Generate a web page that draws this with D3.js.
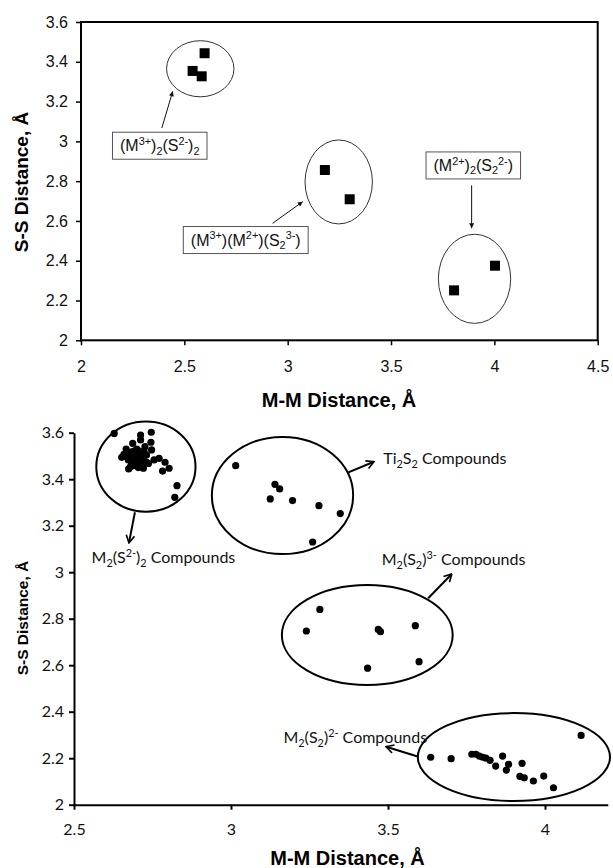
<!DOCTYPE html>
<html>
<head>
<meta charset="utf-8">
<script src="https://cdn.jsdelivr.net/npm/d3@7/dist/d3.min.js"></script>
<style>
  html, body { margin: 0; padding: 0; background: #fff; }
  svg { display: block; }
</style>
</head>
<body>
<svg id="fig" width="613" height="868"></svg>
<script>
// ---------- Panel (a): bond-distance classes ----------
const topMM = [2.598, 2.540, 2.584, 3.180, 3.300, 3.805, 4.003];
const topSS = [3.443, 3.354, 3.327, 2.856, 2.709, 2.251, 2.375];
const topXTicks = [2, 2.5, 3, 3.5, 4, 4.5];
const topYTicks = [2, 2.2, 2.4, 2.6, 2.8, 3, 3.2, 3.4, 3.6];

// grouping ellipses: centre (mm, ss) and half-widths in data units
const topGroups = [
  { cx: 2.577, cy: 3.365, rx: 0.163, ry: 0.141 },
  { cx: 3.247, cy: 2.796, rx: 0.163, ry: 0.211 },
  { cx: 3.904, cy: 2.309, rx: 0.175, ry: 0.224 }
];
// boxed labels (centre in data units) with arrows pointing at the groups
const topLabels = [
  { text: "(M^{3+})_{2}(S^{2-})_{2}", x: 2.381, y: 2.978 },
  { text: "(M^{3+})(M^{2+})(S_{2}^{3-})", x: 2.797, y: 2.504 },
  { text: "(M^{2+})_{2}(S_{2}^{2-})", x: 3.898, y: 2.879 }
];
const topArrows = [
  { x1: 2.391, y1: 3.067, x2: 2.444, y2: 3.252 },
  { x1: 2.927, y1: 2.588, x2: 3.073, y2: 2.697 },
  { x1: 3.890, y1: 2.779, x2: 3.890, y2: 2.563 }
];

// ---------- Panel (b): compound survey ----------
const groupM2S2 = [
  [2.628,3.597],[2.712,3.590],[2.746,3.602],[2.745,3.559],[2.687,3.554],[2.712,3.569],
  [2.666,3.530],[2.726,3.540],[2.747,3.526],[2.652,3.494],[2.659,3.507],[2.674,3.444],
  [2.721,3.447],[2.737,3.468],[2.755,3.483],[2.771,3.490],[2.790,3.473],[2.803,3.447],
  [2.782,3.435],[2.828,3.372],[2.821,3.322],
  [2.668,3.497],[2.676,3.507],[2.684,3.518],[2.691,3.521],[2.700,3.530],[2.708,3.521],
  [2.716,3.511],[2.723,3.518],[2.731,3.504],[2.673,3.483],[2.680,3.490],[2.689,3.497],
  [2.697,3.501],[2.705,3.497],[2.712,3.490],[2.721,3.483],[2.729,3.475],[2.684,3.468],
  [2.691,3.475],[2.700,3.478],[2.708,3.473],[2.716,3.464],[2.695,3.458],[2.705,3.450],
  [2.680,3.454],[2.702,3.508],[2.694,3.487],[2.712,3.505]
];
const groupTi2S2 = [
  [3.015,3.458],[3.140,3.378],[3.155,3.358],[3.125,3.315],
  [3.196,3.308],[3.280,3.286],[3.348,3.252],[3.260,3.130]
];
const groupS2_3 = [
  [3.283,2.840],[3.240,2.747],[3.469,2.754],[3.476,2.744],
  [3.587,2.770],[3.599,2.615],[3.435,2.587]
];
const groupS2_2 = [
  [3.636,2.204],[3.701,2.198],[3.767,2.217],[3.780,2.217],[3.791,2.209],[3.802,2.204],
  [3.812,2.200],[3.825,2.191],[3.843,2.166],[3.865,2.209],[3.884,2.174],[3.877,2.149],
  [3.927,2.178],[3.920,2.122],[3.934,2.116],[3.963,2.102],[3.996,2.123],[4.027,2.073],
  [4.115,2.298]
];
const botXTicks = [2.5, 3, 3.5, 4];
const botYTicks = [2, 2.2, 2.4, 2.6, 2.8, 3, 3.2, 3.4, 3.6];

const botGroups = [
  { cx: 2.729, cy: 3.454, rx: 0.158, ry: 0.194 },
  { cx: 3.164, cy: 3.330, rx: 0.225, ry: 0.252 },
  { cx: 3.434, cy: 2.730, rx: 0.272, ry: 0.215 },
  { cx: 3.901, cy: 2.205, rx: 0.306, ry: 0.189 }
];
const botLabels = [
  { text: "M_{2}(S^{2-})_{2} Compounds", x: 2.556, y: 3.038 },
  { text: "Ti_{2}S_{2} Compounds", x: 3.485, y: 3.464 },
  { text: "M_{2}(S_{2})^{3-} Compounds", x: 3.480, y: 3.031 },
  { text: "M_{2}(S_{2})^{2-} Compounds", x: 3.167, y: 2.265 }
];
const botArrows = [
  { x1: 2.694, y1: 3.258, x2: 2.675, y2: 3.126 },
  { x1: 3.372, y1: 3.428, x2: 3.455, y2: 3.475 },
  { x1: 3.628, y1: 2.888, x2: 3.703, y2: 2.992 },
  { x1: 3.597, y1: 2.206, x2: 3.494, y2: 2.249 }
];

const svg = d3.select("#fig");
const fmt = d3.format("~g");

// Writes a label with ^{..} superscripts and _{..} subscripts as tspans.
function richText(textSel, str, size) {
  const re = /([\^_])\{([^}]*)\}|([^\^_]+)/g;
  let m, cur = 0;
  while ((m = re.exec(str)) !== null) {
    let target = 0, content, fs = size;
    if (m[1]) {
      content = m[2];
      fs = size * 0.68;
      target = m[1] === "^" ? -size * 0.38 : size * 0.22;
    } else {
      content = m[3];
    }
    textSel.append("tspan")
      .attr("dy", target - cur)
      .attr("font-size", fs)
      .text(content);
    cur = target;
  }
}

const defs = svg.append("defs");
defs.append("marker")
  .attr("id", "headFilled")
  .attr("viewBox", "0 0 10 10")
  .attr("refX", 10).attr("refY", 5)
  .attr("markerWidth", 6).attr("markerHeight", 5)
  .attr("markerUnits", "userSpaceOnUse")
  .attr("orient", "auto")
  .append("path").attr("d", "M0,0 L10,5 L0,10 Z").attr("fill", "#111");
defs.append("marker")
  .attr("id", "headOpen")
  .attr("viewBox", "0 0 12 12")
  .attr("refX", 11).attr("refY", 6)
  .attr("markerWidth", 10).attr("markerHeight", 10)
  .attr("markerUnits", "userSpaceOnUse")
  .attr("orient", "auto")
  .append("path").attr("d", "M2,1 L11,6 L2,11")
  .attr("fill", "none").attr("stroke", "#000").attr("stroke-width", 2);

// ================= Panel (a) =================
{
  const x = d3.scaleLinear().domain([2, 4.5]).range([81, 597.7]);
  const y = d3.scaleLinear().domain([2, 3.6]).range([340.3, 22]);
  const g = svg.append("g");

  const xAxis = g.append("g")
    .attr("transform", `translate(0,${y(2)})`)
    .call(d3.axisBottom(x).tickValues(topXTicks).tickFormat(fmt)
      .tickSize(5).tickSizeOuter(0).tickPadding(15));
  const yAxis = g.append("g")
    .attr("transform", `translate(${x(2)},0)`)
    .call(d3.axisLeft(y).tickValues(topYTicks).tickFormat(fmt)
      .tickSize(5).tickSizeOuter(0).tickPadding(8));
  [xAxis, yAxis].forEach(a => {
    a.select(".domain").remove();
    a.selectAll("line").attr("stroke", "#000").attr("stroke-width", 1.5);
    a.selectAll("text").attr("font-family", "Liberation Sans, Arial, sans-serif")
      .attr("font-size", 16).attr("fill", "#111");
  });

  // frame
  g.append("rect")
    .attr("x", x(2)).attr("y", y(3.6))
    .attr("width", x(4.5) - x(2)).attr("height", y(2) - y(3.6))
    .attr("fill", "none").attr("stroke", "#000").attr("stroke-width", 2);

  g.selectAll("ellipse.grp").data(topGroups).join("ellipse")
    .attr("cx", d => x(d.cx)).attr("cy", d => y(d.cy))
    .attr("rx", d => x(d.cx + d.rx) - x(d.cx))
    .attr("ry", d => y(d.cy) - y(d.cy + d.ry))
    .attr("fill", "none").attr("stroke", "#333").attr("stroke-width", 1);

  g.selectAll("rect.pt").data(topMM).join("rect")
    .attr("x", (d, i) => x(d) - 5).attr("y", (d, i) => y(topSS[i]) - 5)
    .attr("width", 10).attr("height", 10).attr("fill", "#000");

  g.selectAll("line.arr").data(topArrows).join("line")
    .attr("x1", d => x(d.x1)).attr("y1", d => y(d.y1))
    .attr("x2", d => x(d.x2)).attr("y2", d => y(d.y2))
    .attr("stroke", "#111").attr("stroke-width", 1)
    .attr("marker-end", "url(#headFilled)");

  topLabels.forEach(d => {
    const lg = g.append("g");
    const t = lg.append("text")
      .attr("x", x(d.x)).attr("y", y(d.y) + 5.5)
      .attr("text-anchor", "middle")
      .attr("font-family", "Liberation Sans, Arial, sans-serif")
      .attr("fill", "#111");
    richText(t, d.text, 16);
    const bb = t.node().getBBox();
    lg.insert("rect", "text")
      .attr("x", bb.x - 7.5).attr("y", y(d.y) - 13.5)
      .attr("width", bb.width + 15).attr("height", 27)
      .attr("fill", "#fff").attr("stroke", "#555").attr("stroke-width", 1);
  });

  g.append("text")
    .attr("x", 339).attr("y", 406.5)
    .attr("text-anchor", "middle")
    .attr("font-family", "Liberation Sans, Arial, sans-serif")
    .attr("font-weight", "bold").attr("font-size", 20)
    .text("M-M Distance, Å");
  g.append("text")
    .attr("transform", `translate(28,182) rotate(-90)`)
    .attr("text-anchor", "middle")
    .attr("font-family", "Liberation Sans, Arial, sans-serif")
    .attr("font-weight", "bold").attr("font-size", 19)
    .text("S-S Distance, Å");
}

// ================= Panel (b) =================
{
  const x = d3.scaleLinear().domain([2.5, 4.2]).range([74, 607.8]);
  const y = d3.scaleLinear().domain([2, 3.6]).range([804.7, 432.7]);
  const g = svg.append("g");
  const sans = "Lato, 'Open Sans', sans-serif";

  const xAxis = g.append("g")
    .attr("transform", `translate(0,${y(2)})`)
    .call(d3.axisBottom(x).tickValues(botXTicks).tickFormat(fmt)
      .tickSize(5).tickSizeOuter(0).tickPadding(14));
  const yAxis = g.append("g")
    .attr("transform", `translate(${x(2.5)},0)`)
    .call(d3.axisLeft(y).tickValues(botYTicks).tickFormat(fmt)
      .tickSize(5).tickSizeOuter(0).tickPadding(5));
  [xAxis, yAxis].forEach(a => {
    a.select(".domain").attr("stroke", "#000").attr("stroke-width", 2);
    a.selectAll("line").attr("stroke", "#000").attr("stroke-width", 2);
    a.selectAll("text").attr("font-family", sans)
      .attr("font-size", 16).attr("fill", "#111");
  });

  g.selectAll("ellipse.grp").data(botGroups).join("ellipse")
    .attr("cx", d => x(d.cx)).attr("cy", d => y(d.cy))
    .attr("rx", d => x(d.cx + d.rx) - x(d.cx))
    .attr("ry", d => y(d.cy) - y(d.cy + d.ry))
    .attr("fill", "none").attr("stroke", "#000").attr("stroke-width", 2);

  const allPts = [].concat(groupM2S2, groupTi2S2, groupS2_3, groupS2_2);
  g.selectAll("circle.pt").data(allPts).join("circle")
    .attr("cx", d => x(d[0])).attr("cy", d => y(d[1]))
    .attr("r", 3.6).attr("fill", "#000");

  g.selectAll("line.arr").data(botArrows).join("line")
    .attr("x1", d => x(d.x1)).attr("y1", d => y(d.y1))
    .attr("x2", d => x(d.x2)).attr("y2", d => y(d.y2))
    .attr("stroke", "#000").attr("stroke-width", 2)
    .attr("marker-end", "url(#headOpen)");

  botLabels.forEach(d => {
    const t = g.append("text")
      .attr("x", x(d.x)).attr("y", y(d.y))
      .attr("font-family", sans).attr("fill", "#111");
    richText(t, d.text, 16);
  });

  g.append("text")
    .attr("x", 347.5).attr("y", 865)
    .attr("text-anchor", "middle")
    .attr("font-family", "Liberation Sans, Arial, sans-serif")
    .attr("font-weight", "bold").attr("font-size", 20)
    .text("M-M Distance, Å");
  g.append("text")
    .attr("transform", `translate(28,618) rotate(-90)`)
    .attr("text-anchor", "middle")
    .attr("font-family", "Liberation Sans, Arial, sans-serif")
    .attr("font-weight", "bold").attr("font-size", 15.5)
    .text("S-S Distance, Å");
}
</script>
</body>
</html>
